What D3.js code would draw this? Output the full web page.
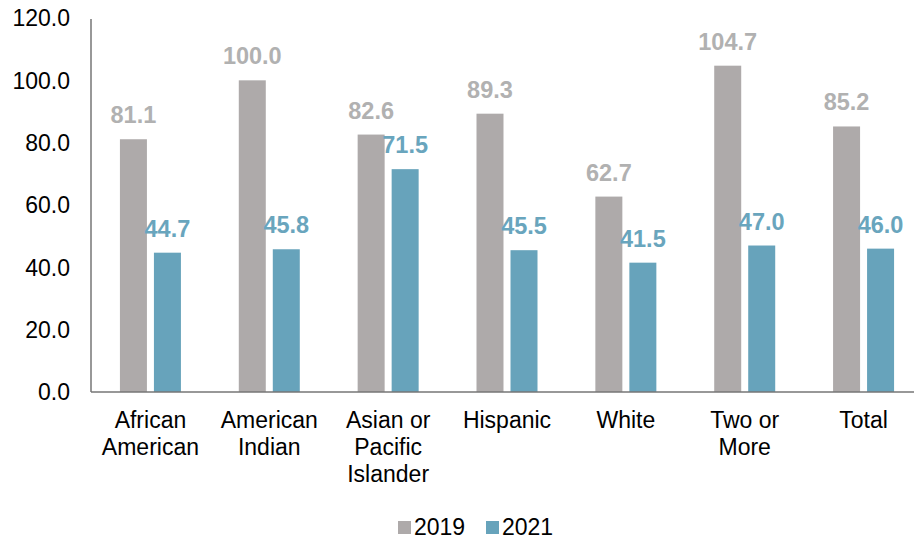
<!DOCTYPE html>
<html>
<head>
<meta charset="utf-8">
<script src="https://cdn.jsdelivr.net/npm/d3@7"></script>
<style>
  body { margin: 0; background: #fff; }
  text { font-family: "Liberation Sans", Arial, sans-serif; }
</style>
</head>
<body>
<div id="chart"></div>
<script>
// data
const categories = [["African", "American"], ["American", "Indian"], ["Asian or", "Pacific", "Islander"], ["Hispanic"], ["White"], ["Two or", "More"], ["Total"]];
const seriesNames = ["2019", "2021"];
const values2019 = [81.1, 100.0, 82.6, 89.3, 62.7, 104.7, 85.2];
const values2021 = [44.7, 45.8, 71.5, 45.5, 41.5, 47.0, 46.0];
const yTicks = [0, 20, 40, 60, 80, 100, 120];

const barColors = ["#aeaaaa", "#67a3bb"];
const labelColors = ["#b1b1b1", "#69a5bd"];

const width = 914, height = 539;
const svg = d3.select("#chart").append("svg")
    .attr("width", width)
    .attr("height", height);

const plotLeft = 91, plotRight = 923, plotTop = 18, plotBottom = 392;

// scales
let x = d3.scaleBand()
    .domain(d3.range(categories.length))
    .range([plotLeft, plotRight])
    .padding(0);

let x1 = d3.scaleBand()
    .domain(seriesNames)
    .range([-30.5, 30.5])
    .paddingInner(0.206);

let y = d3.scaleLinear()
    .domain([0, 120])
    .range([plotBottom, plotTop]);

// y tick labels
svg.append("g")
    .selectAll("text")
    .data(yTicks)
    .join("text")
    .attr("x", 70)
    .attr("y", d => y(d))
    .attr("dy", "0.36em")
    .attr("text-anchor", "end")
    .attr("font-size", 23)
    .attr("fill", "#000")
    .text(d => d.toFixed(1));

// bars
let rows = seriesNames.map((s, si) => ({
    name: s,
    values: si === 0 ? values2019 : values2021,
    idx: si
}));

rows.forEach(r => {
    let g = svg.append("g");
    g.selectAll("rect")
        .data(r.values)
        .join("rect")
        .attr("x", (d, i) => x(i) + x.bandwidth() / 2 + x1(r.name))
        .attr("y", d => y(d))
        .attr("width", x1.bandwidth())
        .attr("height", d => plotBottom - y(d))
        .attr("fill", barColors[r.idx]);

    g.selectAll("text")
        .data(r.values)
        .join("text")
        .attr("x", (d, i) => x(i) + x.bandwidth() / 2 + x1(r.name) + x1.bandwidth() / 2)
        .attr("y", d => y(d) - 16)
        .attr("text-anchor", "middle")
        .attr("font-size", 23.5)
        .attr("font-weight", "bold")
        .attr("fill", labelColors[r.idx])
        .text(d => d.toFixed(1));
});

// axes lines
svg.append("line")
    .attr("x1", plotLeft).attr("x2", plotLeft)
    .attr("y1", plotTop + 1).attr("y2", plotBottom)
    .attr("stroke", "#767676")
    .attr("stroke-width", 1.5);

svg.append("line")
    .attr("x1", plotLeft).attr("x2", width)
    .attr("y1", plotBottom).attr("y2", plotBottom)
    .attr("stroke", "#767676")
    .attr("stroke-width", 1.5);

// category labels
let cat = svg.append("g")
    .selectAll("text")
    .data(categories)
    .join("text")
    .attr("x", (d, i) => x(i) + x.bandwidth() / 2)
    .attr("y", 428)
    .attr("text-anchor", "middle")
    .attr("font-size", 23)
    .attr("fill", "#000");

cat.selectAll("tspan")
    .data(d => d)
    .join("tspan")
    .attr("x", function () { return d3.select(this.parentNode).attr("x"); })
    .attr("dy", (d, i) => i === 0 ? 0 : 27)
    .text(d => d);

// legend
let legendX = [398, 486];
let legend = svg.append("g")
    .selectAll("g")
    .data(seriesNames)
    .join("g")
    .attr("transform", (d, i) => "translate(" + legendX[i] + ",521)");

legend.append("rect")
    .attr("width", 13)
    .attr("height", 13)
    .attr("fill", (d, i) => barColors[i]);

legend.append("text")
    .attr("x", 16)
    .attr("y", 14)
    .attr("font-size", 23)
    .attr("fill", "#000")
    .text(d => d);
</script>
</body>
</html>
